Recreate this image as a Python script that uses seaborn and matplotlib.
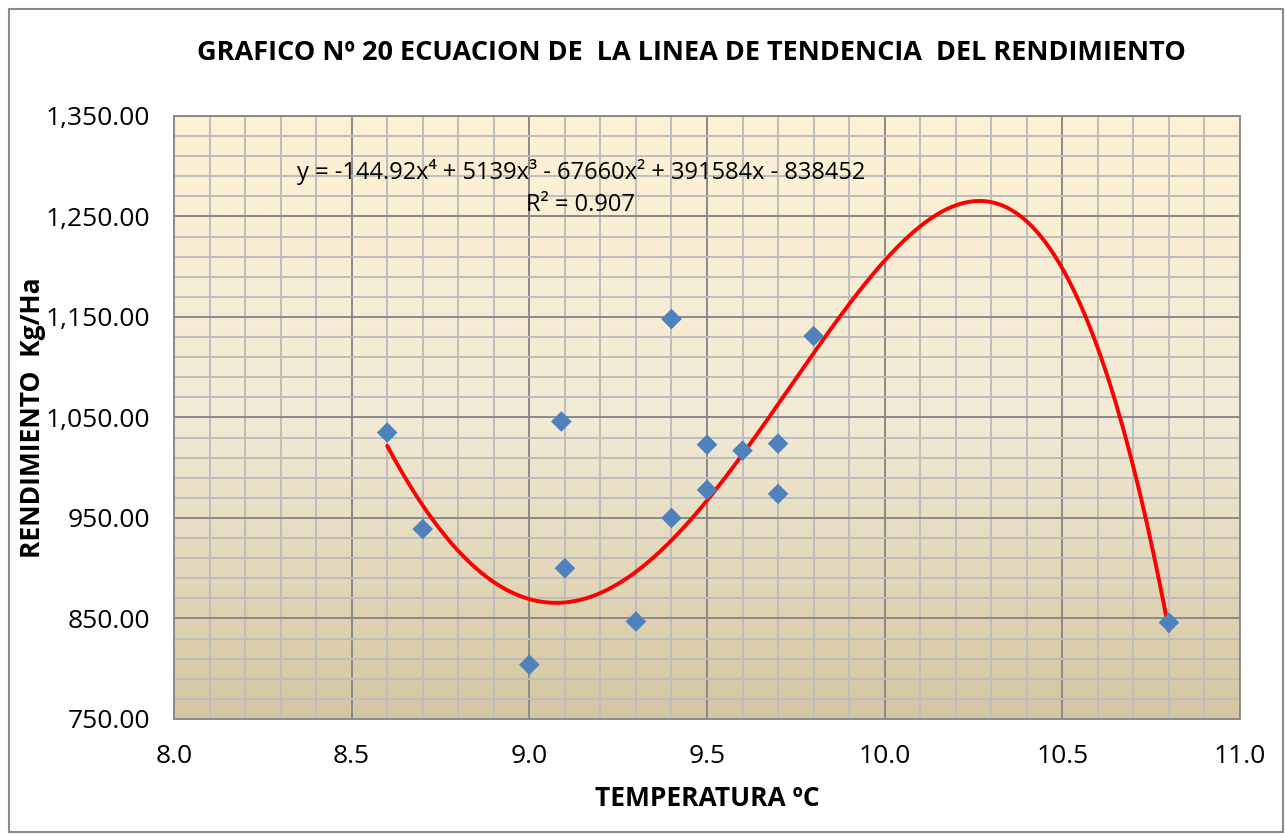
import numpy as np
import pandas as pd
import matplotlib
matplotlib.use("Agg")
import matplotlib.pyplot as plt
import seaborn as sns
from matplotlib.colors import LinearSegmentedColormap
from matplotlib.patches import Rectangle
from matplotlib.ticker import FixedLocator, FuncFormatter

# ---- data ----
temperatura = [8.6, 8.7, 9.0, 9.09, 9.1, 9.3, 9.4, 9.4, 9.5, 9.5, 9.6, 9.7, 9.7, 9.8, 10.8]
rendimiento = [1035, 939, 804, 1046, 900, 847, 1148, 950, 1023, 978, 1017, 1024, 974, 1131, 846]

# trend line (polynomial, order 4) values
trend_x = [8.6, 8.725, 8.9, 9.0, 9.077, 9.2, 9.3, 9.4, 9.5, 9.6, 9.7, 9.8,
           9.931, 10.0, 10.1, 10.2, 10.273, 10.3, 10.4, 10.5, 10.6, 10.7, 10.8]
trend_y = [1021, 950, 886, 872, 867, 876, 894, 923, 965, 1014, 1067, 1120,
           1175, 1205, 1237, 1257, 1266, 1266, 1250, 1202, 1119, 988, 845]

title = "GRAFICO Nº 20 ECUACION DE  LA LINEA DE TENDENCIA  DEL RENDIMIENTO"
xlabel = "TEMPERATURA ºC"
ylabel = "RENDIMIENTO  Kg/Ha"
equation = "y = -144.92x⁴ + 5139x³ - 67660x² + 391584x - 838452"
r2_text = "R² = 0.907"

xticks = [8.0, 8.5, 9.0, 9.5, 10.0, 10.5, 11.0]
yticks = [750, 850, 950, 1050, 1150, 1250, 1350]

df = pd.DataFrame({"temp": temperatura, "rend": rendimiento})

sns.set_theme(style="white")
plt.rcParams['font.family'] = ['Open Sans', 'DejaVu Sans']
plt.rcParams['text.color'] = 'black'
plt.rcParams['axes.labelcolor'] = 'black'
plt.rcParams['xtick.labelcolor'] = 'black'
plt.rcParams['ytick.labelcolor'] = 'black'

fig = plt.figure(figsize=(12.86, 8.34), dpi=100)
ax = fig.add_axes([174/1286, 1-719/834, (1240-174)/1286, (719-116)/834])

xmin, xmax, ymin, ymax = xticks[0], xticks[-1], yticks[0], yticks[-1]

# gradient background (top -> bottom)
cmap = LinearSegmentedColormap.from_list("bg", [(0, "#FEF1D4"), (0.5, "#F2EAD6"), (1, "#D4C6A0")])
grad = np.linspace(0, 1, 256).reshape(-1, 1)
ax.imshow(grad, cmap=cmap, aspect="auto", extent=[xmin, xmax, ymin, ymax],
          origin="upper", zorder=0, interpolation="bicubic")

# grids
ax.xaxis.set_major_locator(FixedLocator(xticks))
ax.xaxis.set_minor_locator(FixedLocator(np.round(np.arange(xmin, xmax + 0.01, 0.1), 2)))
ax.yaxis.set_major_locator(FixedLocator(yticks))
ax.yaxis.set_minor_locator(FixedLocator(np.arange(ymin, ymax + 1, 20)))
ax.grid(which="minor", color="#BDBDBD", linewidth=1.4, zorder=1)
ax.grid(which="major", color="#8A8A8A", linewidth=1.4, zorder=1)
ax.set_axisbelow(True)

# trend line
coef = np.polyfit(trend_x, trend_y, 4)
xs = np.linspace(min(temperatura), max(temperatura), 300)
trend = pd.DataFrame({"temp": xs, "rend": np.polyval(coef, xs)})
sns.lineplot(data=trend, x="temp", y="rend", ax=ax, color="#FF0000", linewidth=2.8, zorder=3)

# points
sns.scatterplot(data=df, x="temp", y="rend", ax=ax, marker="D", s=110,
                color="#4F81BD", edgecolor="none", zorder=4)

ax.set_xlim(xmin, xmax)
ax.set_ylim(ymin, ymax)

ax.xaxis.set_major_formatter(FuncFormatter(lambda v, p: f"{v:.1f}"))
ax.yaxis.set_major_formatter(FuncFormatter(lambda v, p: f"{v:,.2f}"))
ax.tick_params(axis="both", which="major", direction="out", length=8, width=1.4,
               color="#8A8A8A", labelsize=19, labelcolor="black")
ax.tick_params(axis="both", which="minor", length=0)
ax.tick_params(axis="x", pad=10)
ax.tick_params(axis="y", pad=9)
for sp in ax.spines.values():
    sp.set_color("#8A8A8A")
    sp.set_linewidth(1.4)
    sp.set_visible(True)

ax.set_xlabel(xlabel, fontsize=19, fontweight="bold", color="black")
ax.xaxis.set_label_coords(0.5, (719 - 798) / 603)
ax.xaxis.label.set_va("center")
ax.set_ylabel(ylabel, fontsize=19, fontweight="bold", color="black")
ax.yaxis.set_label_coords((33 - 174) / 1066, 0.5)
ax.yaxis.label.set_va("center")

fig.text(691/1286, 1-53/834, title, fontsize=19.5, fontweight="bold",
         ha="center", va="center", color="black")
fig.text(581/1286, 1-172/834, equation, fontsize=17, ha="center", va="center", color="black")
fig.text(581/1286, 1-205/834, r2_text, fontsize=17, ha="center", va="center", color="black")

fig.patches.append(Rectangle((9/1286, 2/834), 1274/1286, 823/834, transform=fig.transFigure,
                             fill=False, edgecolor="#8A8A8A", linewidth=1.5))

fig.savefig("out.png", dpi=100, facecolor="white")
